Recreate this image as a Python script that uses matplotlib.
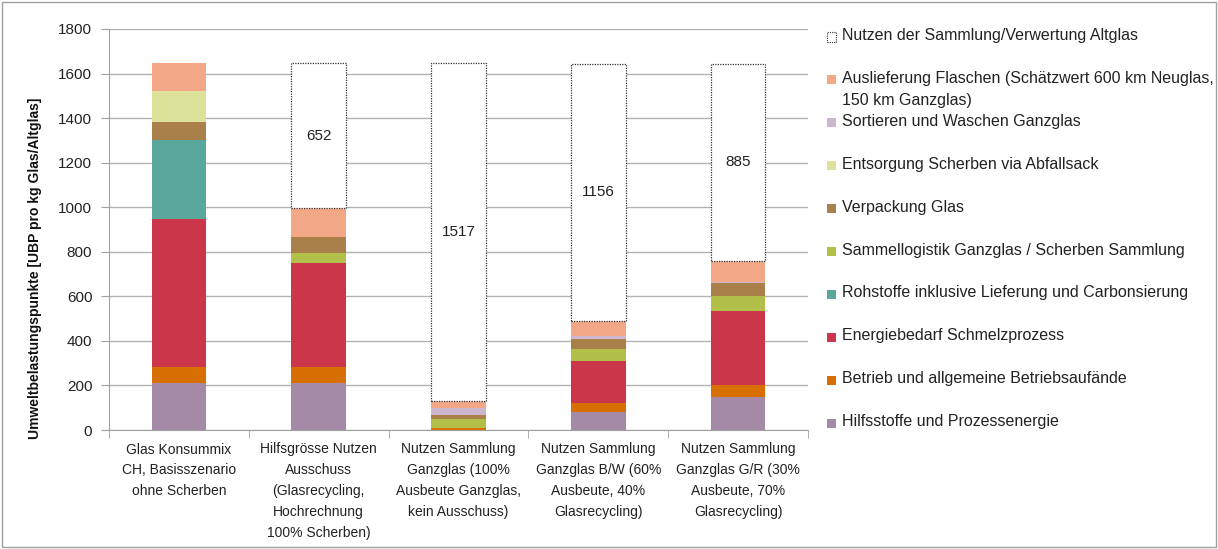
import matplotlib
matplotlib.use("Agg")
import matplotlib.pyplot as plt
from matplotlib.patches import Rectangle
import numpy as np

plt.rcParams['font.family'] = ['Liberation Sans', 'DejaVu Sans']

categories = [
    "Glas Konsummix\nCH, Basisszenario\nohne Scherben",
    "Hilfsgrösse Nutzen\nAusschuss\n(Glasrecycling,\nHochrechnung\n100% Scherben)",
    "Nutzen Sammlung\nGanzglas (100%\nAusbeute Ganzglas,\nkein Ausschuss)",
    "Nutzen Sammlung\nGanzglas B/W (60%\nAusbeute, 40%\nGlasrecycling)",
    "Nutzen Sammlung\nGanzglas G/R (30%\nAusbeute, 70%\nGlasrecycling)",
]

# stacked series, bottom to top
hilfsstoffe    = [212, 212, 2, 82, 150]
betrieb        = [71, 71, 8, 38, 52]
energiebedarf  = [664, 465, 0, 188, 331]
rohstoffe      = [354, 0, 0, 0, 0]
sammellogistik = [0, 48, 38, 54, 70]
verpackung     = [80, 72, 21, 45, 57]
entsorgung     = [140, 0, 0, 0, 0]
sortieren      = [0, 0, 30, 15, 6]
auslieferung   = [127, 127, 31, 67, 94]
nutzen         = [0, 652, 1517, 1156, 885]

series_names = [
    "Hilfsstoffe und Prozessenergie",
    "Betrieb und allgemeine Betriebsaufände",
    "Energiebedarf Schmelzprozess",
    "Rohstoffe inklusive Lieferung und Carbonsierung",
    "Sammellogistik Ganzglas / Scherben Sammlung",
    "Verpackung Glas",
    "Entsorgung Scherben via Abfallsack",
    "Sortieren und Waschen Ganzglas",
    "Auslieferung Flaschen (Schätzwert 600 km Neuglas,\n150 km Ganzglas)",
    "Nutzen der Sammlung/Verwertung Altglas",
]
series_values = [hilfsstoffe, betrieb, energiebedarf, rohstoffe, sammellogistik,
                 verpackung, entsorgung, sortieren, auslieferung, nutzen]
colors = ["#A58AA7", "#D86F05", "#CC364A", "#5AA89B", "#B2BF48",
          "#A9804A", "#DDE29B", "#CDB7CF", "#F2A886", "white"]

yticks = [0, 200, 400, 600, 800, 1000, 1200, 1400, 1600, 1800]

W, H = 1218, 549
fig = plt.figure(figsize=(W / 100, H / 100), dpi=100)
ax = fig.add_axes([109 / W, 1 - 430 / H, (808 - 109) / W, (430 - 29) / H])

x = np.arange(len(categories))
bottom = np.zeros(len(categories))
for name, vals, col in zip(series_names, series_values, colors):
    vals = np.array(vals, dtype=float)
    is_nutzen = name.startswith("Nutzen")
    for i in range(len(x)):
        if vals[i] <= 0:
            continue
        if is_nutzen:
            ax.bar(x[i], vals[i], bottom=bottom[i], width=0.39, color="white",
                   edgecolor="#333333", linestyle=(0, (1, 1)), linewidth=0.9, zorder=3)
            ax.text(x[i], bottom[i] + vals[i] / 2, f"{int(vals[i])}", ha="center",
                    va="center", fontsize=11, color="#222222", zorder=4)
        else:
            ax.bar(x[i], vals[i], bottom=bottom[i], width=0.39, color=col,
                   edgecolor="none", zorder=3)
    bottom += vals

ax.set_xlim(-0.5, len(categories) - 0.5)
ax.set_ylim(0, 1800)
ax.set_yticks(yticks)
ax.set_yticklabels([str(t) for t in yticks], fontsize=11, color="#222222")
ax.yaxis.grid(True, color="#B3B3B3", linewidth=1.0, zorder=0)
ax.set_axisbelow(True)
for s in ["top", "right"]:
    ax.spines[s].set_visible(False)
ax.spines["left"].set_color("#A0A0A0")
ax.spines["bottom"].set_color("#A0A0A0")
ax.tick_params(axis="y", length=6, color="#A0A0A0", pad=6)

ax.set_xticks(x)
ax.set_xticklabels(categories, fontsize=10, color="#222222", linespacing=1.62,
                   va="top")
ax.tick_params(axis="x", length=0, pad=9)
# category separator ticks
ax.set_xticks(np.arange(-0.5, len(categories)), minor=True)
ax.tick_params(axis="x", which="minor", length=6, color="#A0A0A0")

fig.text(35 / W, 1 - 268 / H, "Umweltbelastungspunkte [UBP pro kg Glas/Altglas]",
         rotation=90, ha="center", va="center", fontsize=10, fontweight="bold",
         color="#111111")

# legend (top = last series)
leg_y0 = 37
leg_dy = 42.9
for k, (name, col) in enumerate(zip(series_names[::-1], colors[::-1])):
    yc = leg_y0 + k * leg_dy
    if name.startswith("Nutzen"):
        rect = Rectangle((827 / W, 1 - (yc + 4.5) / H), 9 / W, 9 / H, transform=fig.transFigure,
                         facecolor="white", edgecolor="#333333", linestyle=(0, (1, 1)),
                         linewidth=0.8)
    else:
        rect = Rectangle((827 / W, 1 - (yc + 4.5) / H), 9 / W, 9 / H, transform=fig.transFigure,
                         facecolor=col, edgecolor="none")
    fig.add_artist(rect)
    fig.text(842 / W, 1 - (yc - 9) / H, name, ha="left", va="top", fontsize=11.5,
             color="#222222", linespacing=1.55)

# figure border
fig.add_artist(Rectangle((2 / W, 2 / H), (W - 4) / W, (H - 4) / H, transform=fig.transFigure,
                         facecolor="none", edgecolor="#A0A0A0", linewidth=1.0))

fig.savefig("out.png", dpi=100)
